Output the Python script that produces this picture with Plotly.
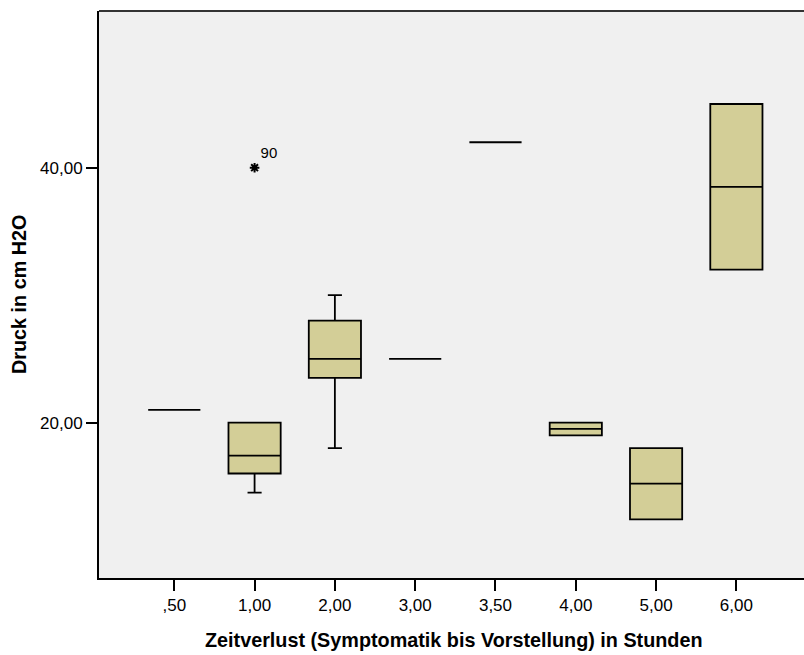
import plotly.graph_objects as go

categories = [",50", "1,00", "2,00", "3,00", "3,50", "4,00", "5,00", "6,00"]
q1 = [21, 16, 23.5, 25, 42, 19, 12.4, 32]
median = [21, 17.4, 25, 25, 42, 19.5, 15.2, 38.5]
q3 = [21, 20, 28, 25, 42, 20, 18, 45]
lower_whisker = [21, 14.5, 18, 25, 42, 19, 12.4, 32]
upper_whisker = [21, 20, 30, 25, 42, 20, 18, 45]

outlier_cat = ["1,00"]
outlier_val = [40]
outlier_label = ["90"]

y_ticks = [20, 40]
y_ticktext = ["20,00", "40,00"]

FONT = "Arial, Liberation Sans, sans-serif"

fig = go.Figure()
fig.add_trace(go.Box(
    x=categories, q1=q1, median=median, q3=q3,
    lowerfence=lower_whisker, upperfence=upper_whisker,
    fillcolor="#D3CE97", line=dict(color="black", width=1.8),
    width=0.65, whiskerwidth=0.27, boxpoints=False, showlegend=False,
))
fig.add_trace(go.Scatter(
    x=outlier_cat, y=outlier_val, mode="markers+text",
    marker=dict(symbol="asterisk-open", size=8, color="black",
                line=dict(color="black", width=2)),
    text=outlier_label, textposition="top right",
    textfont=dict(family=FONT, size=15, color="black"),
    showlegend=False, cliponaxis=False,
))

fig.update_layout(
    width=804, height=655,
    margin=dict(l=99, r=0, t=11, b=77),
    paper_bgcolor="white", plot_bgcolor="#F0F0F0",
    font=dict(family=FONT, size=17, color="black"),
    xaxis=dict(type="category", range=[-0.9375, 7.842], showline=True,
               linecolor="black", linewidth=2, ticks="outside", ticklen=11,
               tickwidth=1.5, tickcolor="black", showgrid=False, zeroline=False,
               tickfont=dict(size=17)),
    yaxis=dict(range=[7.8, 52.3], tickvals=y_ticks, ticktext=y_ticktext,
               showline=True, linecolor="black", linewidth=2, ticks="outside",
               ticklen=11, tickwidth=1.5, tickcolor="black", showgrid=False,
               zeroline=False, tickfont=dict(size=17)),
    shapes=[dict(type="line", xref="paper", yref="paper", x0=0, x1=1, y0=1, y1=1,
                 line=dict(color="#333333", width=2))],
    annotations=[
        dict(text="<b>Zeitverlust (Symptomatik bis Vorstellung) in Stunden</b>",
             xref="paper", yref="paper", x=0.504, y=-(640 - 578.5) / 567,
             xanchor="center", yanchor="middle", showarrow=False,
             font=dict(family=FONT, size=19.8, color="black")),
        dict(text="<b>Druck in cm H2O</b>", textangle=-90,
             xref="paper", yref="paper", x=-(99 - 18.5) / 705, y=0.5,
             xanchor="center", yanchor="middle", showarrow=False,
             font=dict(family=FONT, size=19.8, color="black")),
    ],
)

fig.write_html("out.html")
